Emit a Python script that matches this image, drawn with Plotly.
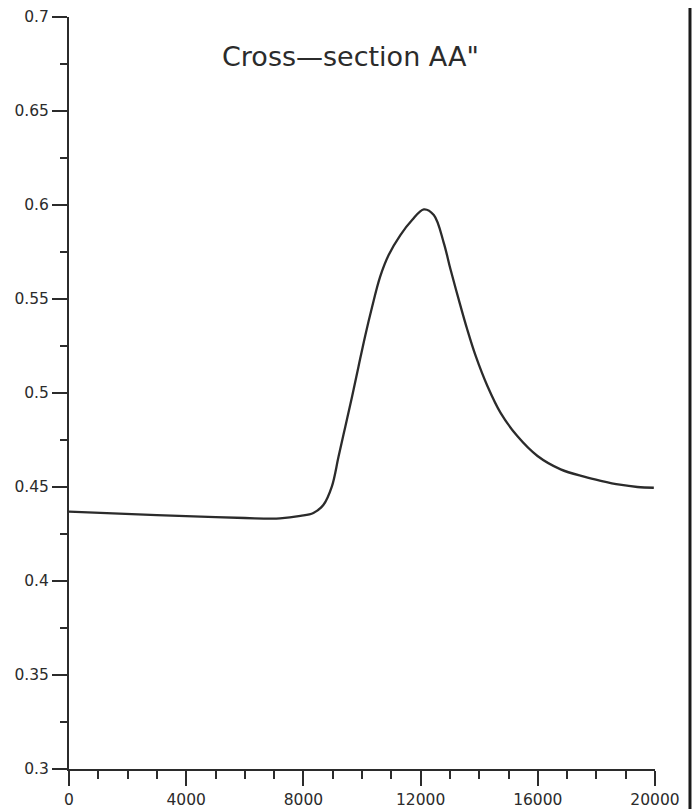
import plotly.graph_objects as go

# Data
x_vals = [0, 1500, 3000, 4500, 6000, 7200, 7900, 8340, 8680, 8970, 9200, 9430,
          9660, 9880, 10110, 10340, 10620, 10910, 11310, 11710, 12110, 12450,
          12790, 13020, 13300, 13590, 13880, 14280, 14730, 15300, 15990, 16780,
          17580, 18150, 18800, 19400, 19960]
y_vals = [0.4369, 0.4360, 0.4350, 0.4342, 0.4335, 0.4333, 0.4346, 0.4362,
          0.4404, 0.4502, 0.4662, 0.4821, 0.4980, 0.5140, 0.5305, 0.5455,
          0.5619, 0.5734, 0.5840, 0.5920, 0.5977, 0.5947, 0.5799, 0.5658,
          0.5498, 0.5339, 0.5197, 0.5037, 0.4894, 0.4771, 0.4665, 0.4594,
          0.4555, 0.4533, 0.4512, 0.4500, 0.4496]

x_tickvals = [0, 4000, 8000, 12000, 16000, 20000]
x_ticktext = ["0", "4000", "8000", "12000", "16000", "20000"]
y_tickvals = [0.3, 0.35, 0.4, 0.45, 0.5, 0.55, 0.6, 0.65, 0.7]
y_ticktext = ["0.3", "0.35", "0.4", "0.45", "0.5", "0.55", "0.6", "0.65", "0.7"]
title_text = 'Cross\u2014section AA"'

ink = "#2b2b2b"

fig = go.Figure()
fig.add_trace(go.Scatter(
    x=x_vals, y=y_vals, mode="lines",
    line=dict(color=ink, width=2.3, shape="spline", smoothing=1.0),
    showlegend=False, hoverinfo="skip"))

axis_common = dict(
    showgrid=False, zeroline=False, showline=True, linecolor=ink, linewidth=2,
    ticks="outside", ticklen=15, tickwidth=2, tickcolor=ink, automargin=False,
    tickfont=dict(family="DejaVu Sans, sans-serif", size=15.5, color=ink),
)

fig.update_xaxes(
    range=[0, 20000], tickmode="array", tickvals=x_tickvals, ticktext=x_ticktext,
    minor=dict(tickmode="linear", tick0=0, dtick=1000, ticks="outside",
               ticklen=8, tickwidth=1.5, tickcolor=ink),
    **axis_common)
fig.update_yaxes(
    range=[0.3, 0.7], tickmode="array", tickvals=y_tickvals, ticktext=y_ticktext,
    minor=dict(tickmode="linear", tick0=0.3, dtick=0.025, ticks="outside",
               ticklen=7, tickwidth=1.5, tickcolor=ink),
    **axis_common)

fig.add_annotation(
    text=title_text, xref="paper", yref="paper", x=0.481, y=0.947,
    showarrow=False, xanchor="center", yanchor="middle",
    font=dict(family="DejaVu Sans, sans-serif", size=27, color=ink))

# right-hand frame edge visible in the reference
fig.add_shape(type="line", xref="paper", yref="paper",
              x0=1.0597, x1=1.0597, y0=-0.06, y1=1.03,
              line=dict(color="#1a1a1a", width=3))

fig.update_layout(
    width=692, height=801,
    margin=dict(l=61, r=45, t=9, b=40, autoexpand=False),
    paper_bgcolor="white", plot_bgcolor="white",
)

fig.write_html("out.html")
